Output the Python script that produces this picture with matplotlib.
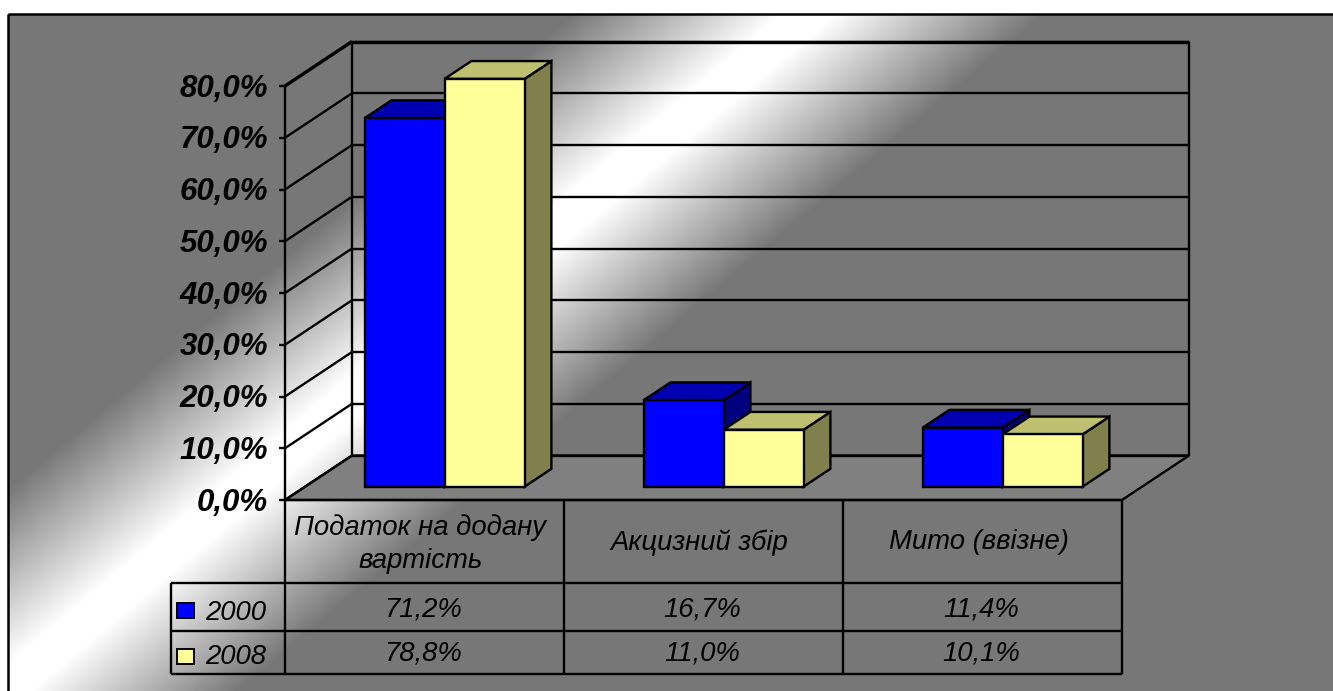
import numpy as np
import matplotlib
matplotlib.use("Agg")
import matplotlib.pyplot as plt
from matplotlib.patches import Polygon, Rectangle

# Частка податків у доходах бюджету, %
categories = ["Податок на додану\nвартість", "Акцизний збір", "Мито (ввізне)"]
years = ["2000", "2008"]
values_2000 = [71.2, 16.7, 11.4]
values_2008 = [78.8, 11.0, 10.1]
axis_ticks = [0, 10, 20, 30, 40, 50, 60, 70, 80]

# Кольори: передня грань, верх, бік
blue_faces = ("#0000FF", "#0000B2", "#00007F")
yellow_faces = ("#FFFF99", "#BFBF72", "#80804C")
FLOOR = "#808080"
GREY = 119

W, H = 1333, 691
fig = plt.figure(figsize=(W / 100, H / 100), dpi=100, facecolor="white")
ax = fig.add_axes([0, 0, 1, 1])
ax.axis("off")

# Геометрія псевдо-3D діаграми
X0, X1, Y0 = 285.0, 1122.0, 500.0
PX_PER_PCT = 5.175
DX, DY = 67.0, -44.5
CAT_W = (X1 - X0) / 3
BAR_W = 80.0
FRONT, BACK = 0.3, 0.7


def vy(v):
    return Y0 - v * PX_PER_PCT


# Тло: сірий з діагональною світлою смугою
yy, xx = np.mgrid[14:H, 8:W]
diag = 0.84 * xx + yy
band = np.clip(1.12 * (1 - np.abs(diag - 693) / 198.0), 0, 1)
shade = (GREY + (255 - GREY) * band) / 255.0
ax.imshow(shade, cmap="gray", vmin=0, vmax=1, extent=(8, W, H, 14),
          aspect="auto", zorder=0, interpolation="bilinear")
ax.set_xlim(0, W)
ax.set_ylim(H, 0)

LINE = dict(color="black", lw=1.7, solid_capstyle="butt", zorder=2)

# Дно
ax.add_patch(Polygon([(X0, Y0), (X0 + DX, Y0 + DY), (X1 + DX, Y0 + DY), (X1, Y0)],
                     fc=FLOOR, ec="black", lw=1.7, zorder=1))

# Сітка на задній і лівій стінках
for t in axis_ticks:
    y = vy(t)
    ax.plot([X0 - 6, X0], [y, y], **LINE)
    ax.plot([X0, X0 + DX], [y, y + DY], **LINE)
    ax.plot([X0 + DX, X1 + DX], [y + DY, y + DY], **LINE)
    ax.text(268, y + 2.5, f"{t:.1f}%".replace(".", ","), ha="right", va="center",
            family="Liberation Sans", weight="bold", style="italic",
            fontsize=22.5, color="black", zorder=5)
ax.plot([X0, X0], [vy(0), vy(axis_ticks[-1])], **LINE)
ax.plot([X0 + DX, X0 + DX], [Y0 + DY, vy(axis_ticks[-1]) + DY], **LINE)
ax.plot([X1 + DX, X1 + DX], [Y0 + DY, vy(axis_ticks[-1]) + DY], **LINE)
top_line = dict(LINE, lw=2.4)
ax.plot([X0 + DX, X1 + DX], [vy(axis_ticks[-1]) + DY] * 2, **top_line)
ax.plot([X0, X0 + DX], [vy(axis_ticks[-1]), vy(axis_ticks[-1]) + DY], **top_line)


def draw_bar(x, value, faces, z):
    fy = Y0 + FRONT * DY
    top = fy - value * PX_PER_PCT
    ddx, ddy = (BACK - FRONT) * DX, (BACK - FRONT) * DY
    edge = dict(ec="black", lw=1.7, joinstyle="miter", zorder=z)
    ax.add_patch(Polygon([(x + BAR_W, fy), (x + BAR_W + ddx, fy + ddy),
                          (x + BAR_W + ddx, top + ddy), (x + BAR_W, top)], fc=faces[2], **edge))
    ax.add_patch(Polygon([(x, top), (x + ddx, top + ddy),
                          (x + BAR_W + ddx, top + ddy), (x + BAR_W, top)], fc=faces[1], **edge))
    ax.add_patch(Rectangle((x, top), BAR_W, fy - top, fc=faces[0], **edge))


for i in range(len(categories)):
    left = X0 + i * CAT_W + (CAT_W - 2 * BAR_W) / 2 + FRONT * DX
    draw_bar(left, values_2000[i], blue_faces, 3 + i * 0.1)
    draw_bar(left + BAR_W, values_2008[i], yellow_faces, 3.05 + i * 0.1)

# Таблиця даних під діаграмою
ROW0, ROW1, ROW2 = 582.5, 631.0, 674.0
LEG_X = 170.5
ax.plot([X0, X0], [Y0, ROW2], **LINE)
for i in range(1, 4):
    x = X0 + i * CAT_W
    ax.plot([x, x], [Y0, ROW2], **LINE)
ax.plot([X0, X1], [Y0, Y0], **LINE)
for y in (ROW0, ROW1, ROW2):
    ax.plot([LEG_X, X1], [y, y], **LINE)
ax.plot([LEG_X, LEG_X], [ROW0, ROW2], **LINE)

TXT = dict(family="Liberation Sans", style="italic", color="black", fontsize=19.8,
           ha="center", va="center", zorder=5)
for i, name in enumerate(categories):
    xc = X0 + (i + 0.5) * CAT_W
    shift = 3 if "\n" in name else 1
    ax.text(xc - 4, (Y0 + ROW0) / 2 + shift, name, linespacing=1.35, **TXT)
    ax.text(xc - 1.5, (ROW0 + ROW1) / 2 + 3, f"{values_2000[i]:.1f}%".replace(".", ","), **TXT)
    ax.text(xc - 1.5, (ROW1 + ROW2) / 2 + 1.5, f"{values_2008[i]:.1f}%".replace(".", ","), **TXT)

for year, faces, yc, dy in zip(years, (blue_faces, yellow_faces), (610.0, 656.0), (3, 1)):
    ax.add_patch(Rectangle((177, yc - 7.5), 17, 15, fc=faces[0], ec="black", lw=1.4, zorder=5))
    ax.text(235.5, yc + dy, year, **TXT)

# Рамка області діаграми
ax.plot([8, 8], [H, 14], color="black", lw=1.8, zorder=6, solid_capstyle="butt")
ax.plot([8, W], [14, 14], color="black", lw=1.8, zorder=6, solid_capstyle="butt")

fig.savefig("out.png", dpi=100, facecolor="white")
